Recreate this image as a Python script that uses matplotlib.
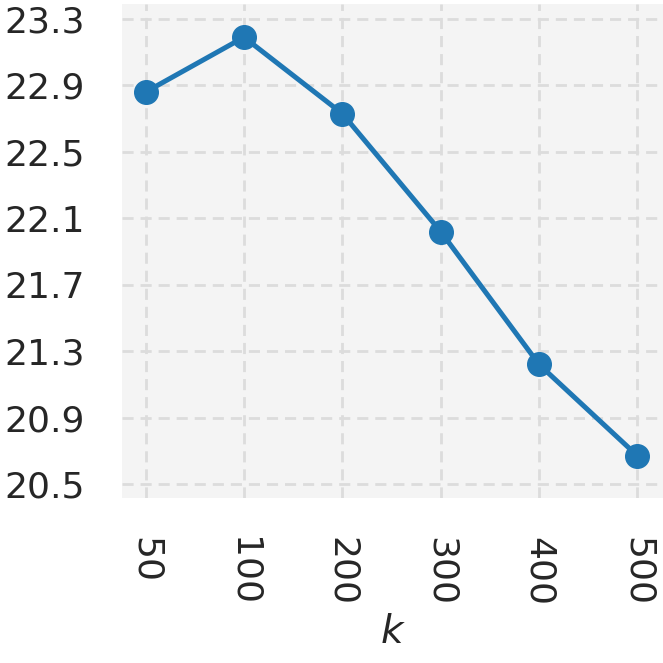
import matplotlib
matplotlib.use("Agg")
from matplotlib import pyplot as plt
import numpy as np

# data
k_labels = ["50", "100", "200", "300", "400", "500"]
scores = [22.86, 23.19, 22.73, 22.02, 21.22, 20.67]
y_ticks = [20.5, 20.9, 21.3, 21.7, 22.1, 22.5, 22.9, 23.3]

fig = plt.figure(figsize=(6.63, 6.63), dpi=100)
ax = fig.add_axes([122 / 663, 165 / 663, 541 / 663, 494 / 663])
ax.set_facecolor("#f4f4f4")
for s in ax.spines.values():
    s.set_visible(False)

x = np.arange(len(k_labels))
ax.plot(x, scores, color="#1f77b4", linewidth=3.6, marker="o", markersize=17, zorder=3)

ax.set_xticks(x)
ax.set_xticklabels(k_labels, rotation=-90)
ax.set_yticks(y_ticks)
ax.set_yticklabels(["%.1f" % v for v in y_ticks])
ax.set_xlim(-0.24, 5.26)
ax.set_ylim(20.416, 23.39)

ax.grid(True, color="#dcdcdc", linestyle=(0, (4, 2.5)), linewidth=2)
ax.set_axisbelow(True)
ax.tick_params(axis="both", length=0, labelsize=26, colors="#262626")
ax.tick_params(axis="y", pad=27)
ax.tick_params(axis="x", pad=28)
ax.set_xlabel("$k$", fontsize=28, color="#262626", labelpad=5)

fig.savefig("out.png", dpi=100)
